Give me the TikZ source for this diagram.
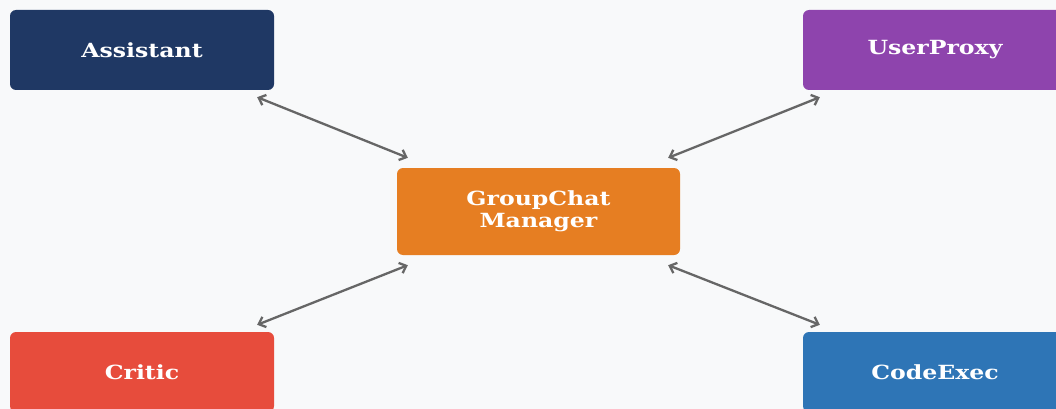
\documentclass[tikz,border=0pt]{standalone}
\usepackage{fontspec}
\setmainfont[FakeStretch=1.21]{DejaVu Serif}
\usetikzlibrary{arrows.meta,calc}
\definecolor{bgcol}{HTML}{F8F9FA}
\definecolor{navycol}{HTML}{1F3864}
\definecolor{purplecol}{HTML}{8E44AD}
\definecolor{orangecol}{HTML}{E67E22}
\definecolor{redcol}{HTML}{E74C3C}
\definecolor{bluecol}{HTML}{2E75B6}
\definecolor{linkcol}{HTML}{666666}
\begin{document}
\begin{tikzpicture}[x=1pt, y=1pt, yscale=-1,
    agent/.style={rounded corners=6pt, minimum width=264pt, minimum height=80pt, inner sep=0pt,
        text=white, align=center, font=\fontsize{19.5}{22}\selectfont\bfseries},
    link/.style={draw=linkcol, line width=2.3pt,
        {Straight Barb[length=6pt,width=11pt]}-{Straight Barb[length=6pt,width=11pt]}}]
    \useasboundingbox (0,0) rectangle (1056,409);
    \clip (0,0) rectangle (1056,409);
    \fill [bgcol] (0,0) rectangle (1056,409);

    \node [agent, fill=navycol] (asst) at (142,50) {Assistant};
    \node [agent, fill=purplecol] (proxy) at (935,50) {UserProxy};
    \node [agent, fill=orangecol, minimum width=283pt, minimum height=87pt] (mgr) at (538.5,211.5) {GroupChat\\Manager};
    \node [agent, fill=redcol] (critic) at (142,372) {Critic};
    \node [agent, fill=bluecol] (exec) at (935,372) {CodeExec};

    \draw [link] ($(asst.south east)+(-17,7)$) -- ($(mgr.north west)+(11,-10)$);
    \draw [link] ($(proxy.south west)+(17,7)$) -- ($(mgr.north east)+(-12,-10)$);
    \draw [link] ($(critic.north east)+(-17,-7)$) -- ($(mgr.south west)+(11,10)$);
    \draw [link] ($(exec.north west)+(17,-7)$) -- ($(mgr.south east)+(-12,10)$);
\end{tikzpicture}
\end{document}
